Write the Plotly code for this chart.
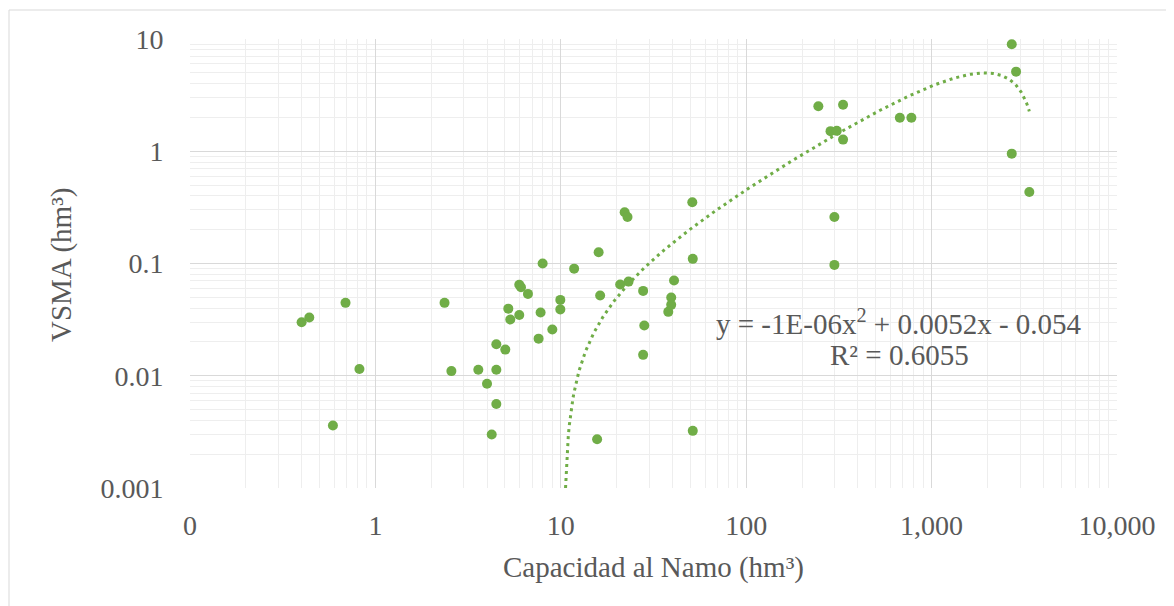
import numpy as np
import plotly.graph_objects as go

# Data
capacidad_namo = [0.40, 0.44, 0.69, 0.82, 0.59, 2.36, 2.57, 3.59, 4.0, 4.24,
                  4.49, 4.49, 4.49, 5.02, 5.21, 5.34, 5.97, 6.1, 5.97, 6.65,
                  7.59, 7.78, 7.98, 9.0, 9.94, 9.94, 11.8, 15.7, 16.0, 16.3,
                  20.9, 22.1, 22.9, 23.2, 27.8, 28.2, 27.8, 38.0, 39.4, 39.4,
                  40.8, 51.2, 51.5, 51.5, 245, 285, 299, 299, 308, 333,
                  333, 674, 778, 2706, 2706, 2855, 3366]
vsma = [0.030, 0.033, 0.0446, 0.0115, 0.0036, 0.0446, 0.0110, 0.0113, 0.0085, 0.0030,
        0.0191, 0.0113, 0.0056, 0.0171, 0.0396, 0.0317, 0.0646, 0.0615, 0.0348, 0.0536,
        0.0214, 0.0366, 0.100, 0.0258, 0.0474, 0.039, 0.090, 0.00272, 0.126, 0.0518,
        0.0649, 0.286, 0.260, 0.069, 0.057, 0.028, 0.01535, 0.0371, 0.0497, 0.0428,
        0.0705, 0.351, 0.110, 0.00323, 2.52, 1.51, 0.26, 0.0972, 1.52, 2.60,
        1.27, 1.99, 1.99, 8.97, 0.952, 5.12, 0.434]

# Polynomial trendline (order 2) coefficients
trend_a = -1.34e-6
trend_b = 0.0052
trend_c = -0.054

x_ticks = [0.1, 1, 10, 100, 1000, 10000]
x_ticktext = ["0", "1", "10", "100", "1,000", "10,000"]
y_ticks = [0.001, 0.01, 0.1, 1, 10]
y_ticktext = ["0.001", "0.01", "0.1", "1", "10"]

GREEN = "#70ad47"
TXT = "#595959"
FONT = "Liberation Serif"

# trendline from where it enters the axis range (y = 0.001) to the last point
y_floor = 10 ** -3
roots = np.roots([trend_a, trend_b, trend_c - y_floor])
x_start = float(np.min(roots[roots > 0].real))
xt = np.geomspace(x_start, max(capacidad_namo), 500)
yt = trend_a * xt**2 + trend_b * xt + trend_c

fig = go.Figure()
fig.add_trace(go.Scatter(
    x=xt, y=yt, mode="lines",
    line=dict(color=GREEN, width=3, dash="3px,4px"),
    hoverinfo="skip", showlegend=False))
fig.add_trace(go.Scatter(
    x=capacidad_namo, y=vsma, mode="markers",
    marker=dict(color=GREEN, size=10, line=dict(width=0)),
    showlegend=False))

OFF = 8  # page body margin
L, R, T, B = 182, 57, 31, 118
W, H = 1166, 598
pw, ph = W - L - R, H - T - B


def px(sx):
    return (sx - OFF - L) / pw


def py(sy):
    return (H - B - (sy - OFF)) / ph


fig.update_layout(
    width=W, height=H,
    margin=dict(l=L, r=R, t=T, b=B),
    paper_bgcolor="white", plot_bgcolor="white",
    font=dict(family=FONT, size=28, color=TXT),
    xaxis=dict(type="log", range=[-1, 4], tickvals=x_ticks, ticktext=x_ticktext,
               showgrid=True, gridcolor="#d9d9d9", gridwidth=1,
               zeroline=False, showline=False,
               ticks="outside", ticklen=0, tickcolor="rgba(0,0,0,0)",
               ticklabelstandoff=12,
               tickfont=dict(family=FONT, size=28, color=TXT),
               minor=dict(dtick="D1", showgrid=True, gridcolor="#eeeeee", gridwidth=1)),
    yaxis=dict(type="log", range=[-3, 1], tickvals=y_ticks, ticktext=y_ticktext,
               showgrid=True, gridcolor="#d9d9d9", gridwidth=1,
               zeroline=False, showline=False,
               ticks="outside", ticklen=0, tickcolor="rgba(0,0,0,0)",
               ticklabelstandoff=20,
               tickfont=dict(family=FONT, size=28, color=TXT),
               minor=dict(dtick="D1", showgrid=True, gridcolor="#eeeeee", gridwidth=1)),
    annotations=[
        dict(text="Capacidad al Namo (hm³)", xref="paper", yref="paper",
             x=px(653), y=py(567), xanchor="center", yanchor="middle",
             showarrow=False, font=dict(family=FONT, size=29, color=TXT)),
        dict(text="VSMA (hm³)", xref="paper", yref="paper", textangle=-90,
             x=px(61), y=py(265), xanchor="center", yanchor="middle",
             showarrow=False, font=dict(family=FONT, size=29, color=TXT)),
        dict(text="y = -1E-06x<sup>2</sup> + 0.0052x - 0.054", xref="paper", yref="paper",
             x=px(899), y=py(322), xanchor="center", yanchor="middle",
             showarrow=False, font=dict(family=FONT, size=29, color=TXT)),
        dict(text="R² = 0.6055", xref="paper", yref="paper",
             x=px(899), y=py(355), xanchor="center", yanchor="middle",
             showarrow=False, font=dict(family=FONT, size=29, color=TXT)),
    ],
    shapes=[dict(type="rect", xref="paper", yref="paper",
                 x0=px(9), x1=px(1200),
                 y0=py(640), y1=py(10),
                 line=dict(color="#d9d9d9", width=1), fillcolor="rgba(0,0,0,0)",
                 layer="below")],
)

fig.write_html("out.html")
